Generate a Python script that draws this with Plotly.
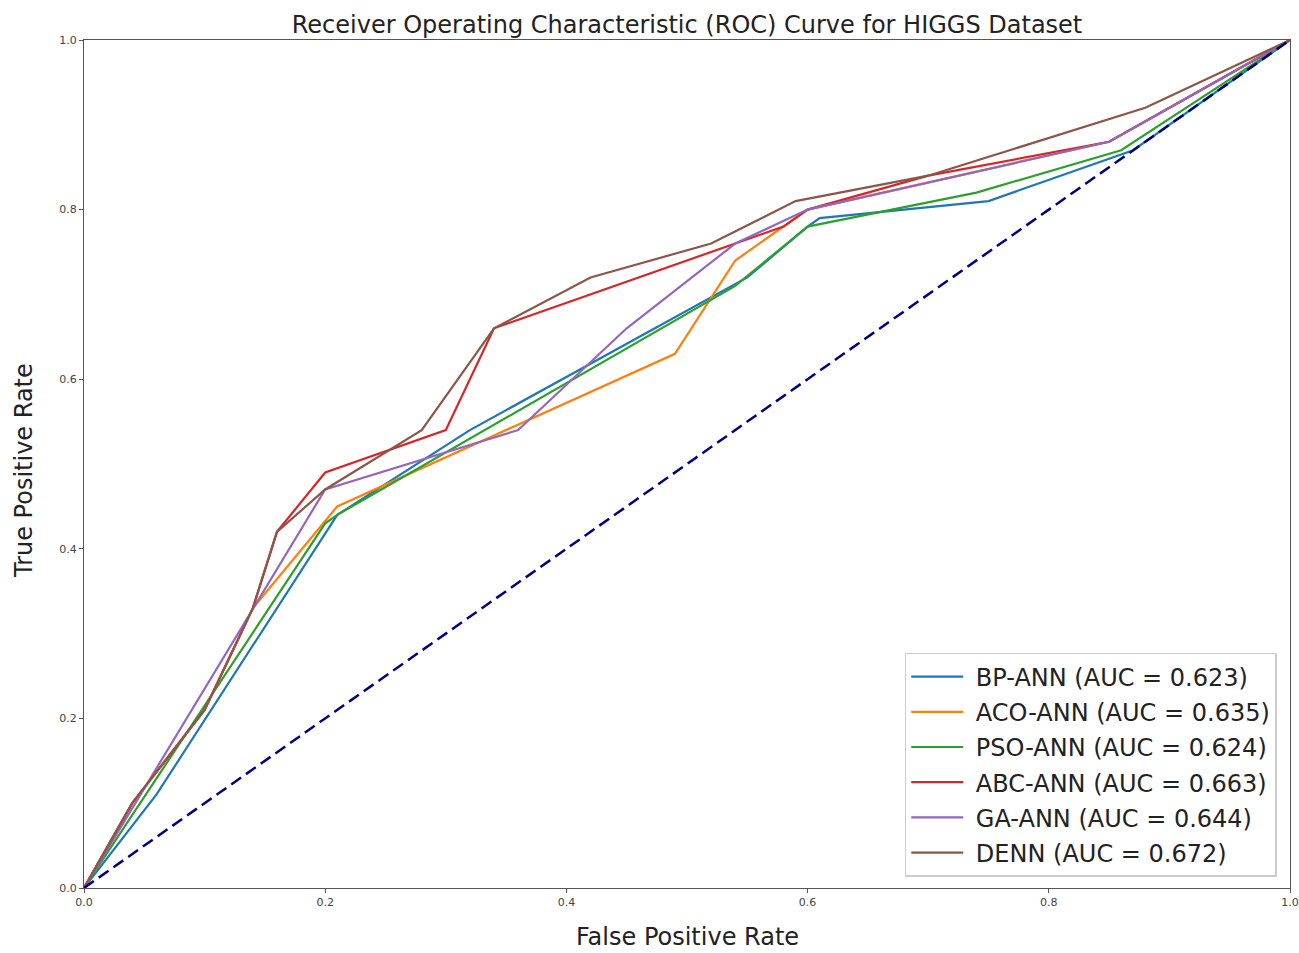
import plotly.graph_objects as go

# ROC curve points
bp_fpr = [0.0, 0.06, 0.21, 0.32, 0.55, 0.60, 0.61, 0.75, 0.87, 1.0]
bp_tpr = [0.0, 0.11, 0.44, 0.54, 0.72, 0.78, 0.79, 0.81, 0.87, 1.0]

aco_fpr = [0.0, 0.04, 0.10, 0.14, 0.21, 0.49, 0.54, 0.60, 0.85, 1.0]
aco_tpr = [0.0, 0.10, 0.21, 0.33, 0.45, 0.63, 0.74, 0.80, 0.88, 1.0]

pso_fpr = [0.0, 0.20, 0.21, 0.54, 0.60, 0.74, 0.86, 1.0]
pso_tpr = [0.0, 0.43, 0.44, 0.71, 0.78, 0.82, 0.87, 1.0]

abc_fpr = [0.0, 0.04, 0.10, 0.14, 0.16, 0.20, 0.30, 0.34, 0.58, 0.60, 0.70, 0.85, 1.0]
abc_tpr = [0.0, 0.10, 0.21, 0.33, 0.42, 0.49, 0.54, 0.66, 0.78, 0.80, 0.84, 0.88, 1.0]

ga_fpr = [0.0, 0.20, 0.36, 0.45, 0.54, 0.60, 0.85, 1.0]
ga_tpr = [0.0, 0.47, 0.54, 0.66, 0.76, 0.80, 0.88, 1.0]

denn_fpr = [0.0, 0.04, 0.10, 0.14, 0.16, 0.20, 0.28, 0.34, 0.42, 0.52, 0.59, 0.70, 0.88, 1.0]
denn_tpr = [0.0, 0.10, 0.21, 0.33, 0.42, 0.47, 0.54, 0.66, 0.72, 0.76, 0.81, 0.84, 0.92, 1.0]

names = ["BP-ANN", "ACO-ANN", "PSO-ANN", "ABC-ANN", "GA-ANN", "DENN"]
aucs = [0.623, 0.635, 0.624, 0.663, 0.644, 0.672]
colors = ["#1f77b4", "#ff7f0e", "#2ca02c", "#d62728", "#9467bd", "#8c564b"]
fprs = [bp_fpr, aco_fpr, pso_fpr, abc_fpr, ga_fpr, denn_fpr]
tprs = [bp_tpr, aco_tpr, pso_tpr, abc_tpr, ga_tpr, denn_tpr]

diag = [0.0, 1.0]
ticks = [0.0, 0.2, 0.4, 0.6, 0.8, 1.0]

FONT = "DejaVu Sans"
W, H = 1299, 953
ML, MR, MT, MB = 84, 9, 40, 65

fig = go.Figure()

for i, (name, auc, col, fx, ty) in enumerate(zip(names, aucs, colors, fprs, tprs)):
    fig.add_trace(go.Scatter(
        x=fx, y=ty, mode="lines",
        name=f"\u00a0{name} (AUC = {auc:.3f})",
        legendgroup=f"g{i}",
        line=dict(color=col, width=2.2),
    ))

fig.add_trace(go.Scatter(
    x=diag, y=diag, mode="lines", showlegend=False,
    line=dict(color="#000080", width=2.5, dash="12px,6px"),
))

axis_common = dict(
    range=[0, 1], tickvals=ticks, ticktext=[f"{t:.1f}" for t in ticks],
    showgrid=False, zeroline=False, showline=True, mirror=True,
    linecolor="#555555", linewidth=1.3, ticks="outside", ticklen=4,
    tickcolor="#555555", tickfont=dict(family=FONT, size=11, color="#444444"),
    automargin=False,
)

fig.update_layout(
    width=W, height=H, autosize=False,
    margin=dict(l=ML, r=MR, t=MT, b=MB),
    paper_bgcolor="white", plot_bgcolor="white",
    title=dict(
        text="Receiver Operating Characteristic (ROC) Curve for HIGGS Dataset",
        x=0.5, xref="paper", xanchor="center", y=1 - 25 / H, yanchor="middle",
        font=dict(family=FONT, size=24, color="#222222"),
    ),
    xaxis=axis_common,
    yaxis=axis_common,
    legend=dict(
        x=0.989, y=0.013, xanchor="right", yanchor="bottom",
        bgcolor="white", bordercolor="#cccccc", borderwidth=1.5,
        font=dict(family=FONT, size=24, color="#222222"),
        tracegroupgap=1, itemwidth=52,
    ),
    showlegend=True,
    annotations=[
        dict(text="False Positive Rate", xref="paper", yref="paper",
             x=0.5, y=-(937 - (H - MB)) / (H - MT - MB), xanchor="center", yanchor="middle",
             showarrow=False, borderpad=0,
             font=dict(family=FONT, size=24, color="#222222")),
        dict(text="True Positive Rate", xref="paper", yref="paper",
             x=-(ML - 24) / (W - ML - MR), y=(H - MB - 471) / (H - MT - MB),
             xanchor="center", yanchor="middle", textangle=-90,
             showarrow=False, font=dict(family=FONT, size=24, color="#222222")),
    ],
)

fig.write_html("out.html")
